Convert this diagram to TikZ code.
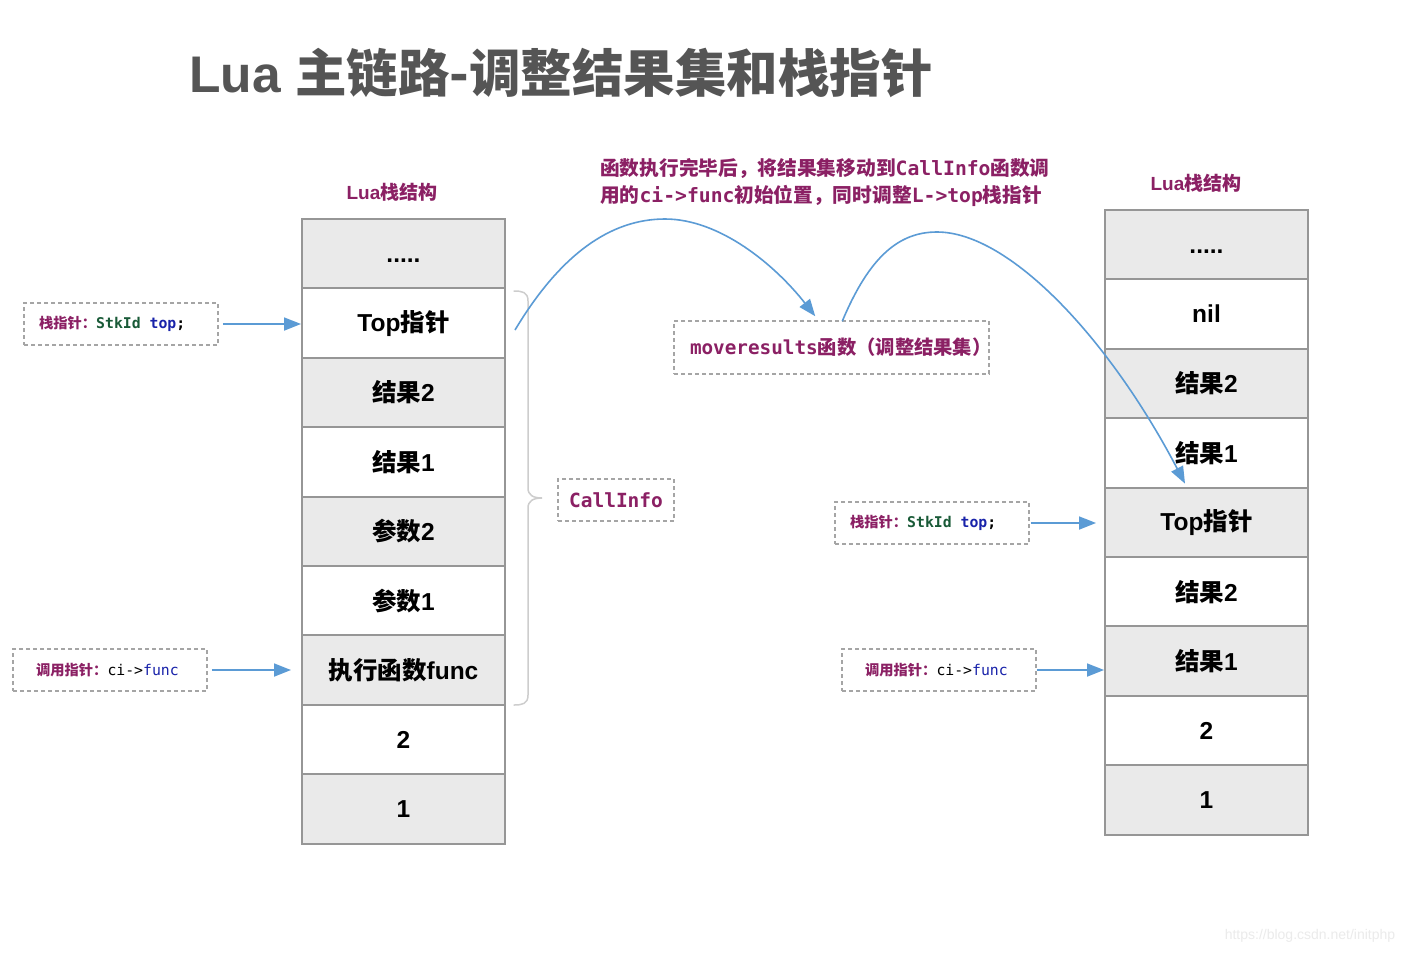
\documentclass[tikz,border=0pt]{standalone}
\usepackage{fontspec}
\setmainfont{Liberation Sans}
\newfontfamily\cjk{Noto Sans CJK SC}
\newfontfamily\mono{DejaVu Sans Mono}
\usetikzlibrary{arrows.meta,calc}
\newcommand\zh[1]{{\cjk #1}}
\newcommand\mo[1]{{\mono #1}}
\newcommand\padl[2]{\hbox to 194pt{\hspace{#1}#2\hfil}}
\definecolor{cellgray}{RGB}{234,234,234}
\definecolor{bordergray}{RGB}{150,150,150}
\definecolor{dashgray}{RGB}{165,165,165}
\definecolor{lblue}{RGB}{91,155,213}
\definecolor{purp}{RGB}{139,32,100}
\definecolor{dgreen}{RGB}{25,90,55}
\definecolor{kblue}{RGB}{25,35,170}
\definecolor{titlegray}{RGB}{85,85,85}
\definecolor{bracegray}{RGB}{205,205,205}
\tikzset{
  cell/.style={draw=bordergray, line width=2pt, minimum width=203pt, minimum height=69.4pt,
    inner sep=0pt, font=\fontsize{24.5}{28}\selectfont\bfseries},
  gcell/.style={cell, fill=cellgray},
  wcell/.style={cell, fill=white},
  ptrbox/.style={draw=dashgray, line width=1.5pt, dash pattern=on 4pt off 3pt,
    minimum width=194pt, minimum height=42pt, inner sep=0pt},
  arr/.style={draw=lblue, line width=1.8pt, -{Triangle[length=17pt,width=13pt]}},
  stacklabel/.style={text=purp, font=\fontsize{19}{22}\selectfont\bfseries},
}
\newcommand\stklbl{\zh{\bfseries\fontsize{14.3}{16}\selectfont\color{purp}栈指针：}{\mono\bfseries\fontsize{14.8}{16}\selectfont\color{dgreen}StkId\ \color{kblue}top\color{black};}}
\newcommand\calllbl{\zh{\bfseries\fontsize{14.3}{16}\selectfont\color{purp}调用指针：}{\mono\fontsize{14.8}{16}\selectfont ci->\color{kblue}func}}
\begin{document}
\begin{tikzpicture}[x=1pt,y=-1pt]
\useasboundingbox (0,0) rectangle (1416,954);
\fill[white] (0,0) rectangle (1416,954);

% title
\node[anchor=west, inner sep=0pt, text=titlegray, font=\fontsize{51.5}{60}\selectfont\bfseries]
  (title) at (189,73) {Lua \zh{主链路-调整结果集和栈指针}};

% stack labels
\node[stacklabel] (lhead) at (392,192) {Lua\zh{栈结构}};
\node[stacklabel] (rhead) at (1196,183) {Lua\zh{栈结构}};

% left stack
\node[gcell] (L1) at (403.5,253.7) {\vphantom{T}.....};
\node[wcell] (L2) at (403.5,323.1) {Top\zh{指针}};
\node[gcell] (L3) at (403.5,392.5) {\zh{结果}2};
\node[wcell] (L4) at (403.5,461.9) {\zh{结果}1};
\node[gcell] (L5) at (403.5,531.3) {\zh{参数}2};
\node[wcell] (L6) at (403.5,600.7) {\zh{参数}1};
\node[gcell] (L7) at (403.5,670.1) {\zh{执行函数}func};
\node[wcell] (L8) at (403.5,739.5) {2};
\node[gcell] (L9) at (403.5,808.9) {1};

% right stack
\node[gcell] (R1) at (1206.5,244.7) {\vphantom{T}.....};
\node[wcell] (R2) at (1206.5,314.1) {nil};
\node[gcell] (R3) at (1206.5,383.5) {\zh{结果}2};
\node[wcell] (R4) at (1206.5,452.9) {\zh{结果}1};
\node[gcell] (R5) at (1206.5,522.3) {Top\zh{指针}};
\node[wcell] (R6) at (1206.5,591.7) {\zh{结果}2};
\node[gcell] (R7) at (1206.5,661.1) {\zh{结果}1};
\node[wcell] (R8) at (1206.5,730.5) {2};
\node[gcell] (R9) at (1206.5,799.9) {1};

% pointer boxes
\node[ptrbox] (P1) at (121,324) {\padl{15pt}{\stklbl}};
\node[ptrbox] (P2) at (110,670) {\padl{23pt}{\calllbl}};
\node[ptrbox] (P3) at (932,523) {\padl{15pt}{\stklbl}};
\node[ptrbox] (P4) at (939,670) {\padl{23pt}{\calllbl}};

% pointer arrows
\draw[arr, shorten <=4pt] (P1.east) -- (L2.west |- P1.east);
\draw[arr, shorten <=4pt, shorten >=10pt] (P2.east) -- (L7.west |- P2.east);
\draw[arr, shorten <=1pt, shorten >=8pt] (P3.east) -- (R5.west |- P3.east);
\draw[arr] (P4.east) -- (R7.west |- P4.east);

% CallInfo and moveresults boxes
\node[ptrbox, minimum width=116pt, minimum height=42pt, text=purp,
  font=\mono\bfseries\fontsize{19.5}{22}\selectfont] (CI) at (616,500) {CallInfo};
\node[ptrbox, minimum width=315pt, minimum height=53pt, text=purp,
  font=\bfseries\fontsize{19.3}{22}\selectfont] (M) at (831.5,347.5)
  {\hbox to 315pt{\hspace{16pt}\mo{moveresults}\zh{函数（调整结果集）}\hfil}};

% brace
\coordinate (bt) at (514,291);
\coordinate (bm) at (542,498);
\coordinate (bb) at (514,705);
\draw[bracegray, line width=1.5pt, line cap=round]
  (bt) .. controls (522,291) and (528,292) .. (528,301) -- (528,488)
  .. controls (528,495) and (533,498) .. (bm)
  .. controls (533,498) and (528,501) .. (528,508) -- (528,695)
  .. controls (528,704) and (522,705) .. (bb);

% annotation
\node[anchor=north west, inner sep=0pt, align=left, text=purp,
  font=\bfseries\fontsize{19.7}{27}\selectfont] (note) at (600,158)
  {\zh{函数执行完毕后，将结果集移动到}\mo{CallInfo}\zh{函数调}\\
   \zh{用的}\mo{ci->func}\zh{初始位置，同时调整}\mo{L->top}\zh{栈指针}};

% curved arrows
\coordinate (c1s) at (515,330);
\coordinate (c1p) at (665,219);
\coordinate (c1e) at ($(M.north west)+(142,-4)$);
\draw[arr, line width=1.6pt] (c1s) .. controls (560,255) and (610,219) .. (c1p)
  .. controls (720,219) and (775,265) .. (c1e);
\coordinate (c2s) at ($(M.north west)+(169,1)$);
\coordinate (c2p) at (937,232);
\coordinate (c2e) at ($(R5.north west)+(81,-3)$);
\draw[arr, line width=1.6pt] (c2s) .. controls (870,255) and (900,232) .. (c2p)
  .. controls (1010,232) and (1110,340) .. (c2e);

% watermark
\node[text=black!8, font=\fontsize{14}{16}\selectfont] (wm) at (1310,936) {https://blog.csdn.net/initphp};
\end{tikzpicture}
\end{document}
